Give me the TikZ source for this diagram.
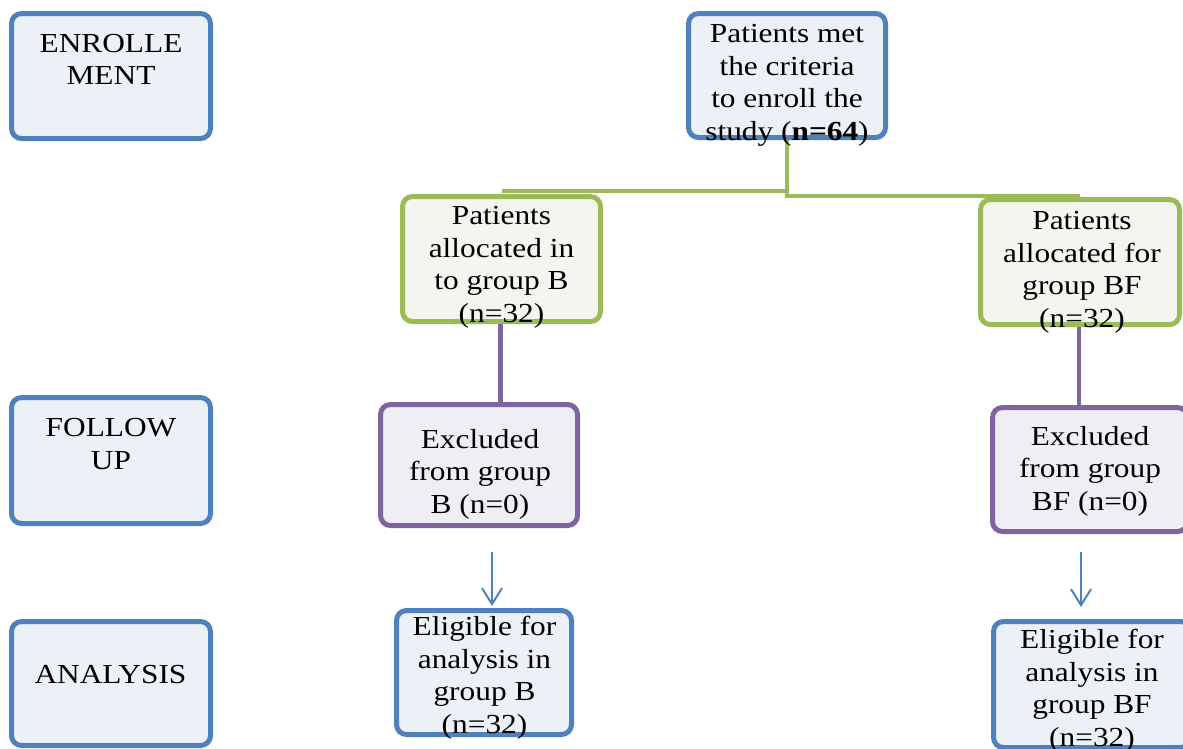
\documentclass[tikz,border=0pt]{standalone}
\usepackage{fontspec}
\setmainfont{Liberation Serif}[FakeStretch=1.14]
\usetikzlibrary{arrows.meta}
\definecolor{bdblue}{HTML}{4F81BD}
\definecolor{fblue}{HTML}{ECF0F7}
\definecolor{bdgreen}{HTML}{9BBB59}
\definecolor{fgreen}{HTML}{F3F6EE}
\definecolor{bdpurple}{HTML}{8064A2}
\definecolor{fpurple}{HTML}{F0EEF5}
\tikzset{
  box/.style={draw, line width=5pt, rounded corners=10pt, inner sep=0pt},
  bluebox/.style={box, draw=bdblue, fill=fblue},
  greenbox/.style={box, draw=bdgreen, fill=fgreen},
  purplebox/.style={box, draw=bdpurple, fill=fpurple},
  txt/.style={anchor=north, inner sep=0pt, align=center,
    font=\fontsize{27.5}{32.7}\selectfont,
    execute at begin node={\rule{0pt}{19pt}}},
  gline/.style={draw=bdgreen, line width=4.5pt},
  pline/.style={draw=bdpurple, line width=4.5pt},
  barrow/.style={draw=bdblue, line width=2pt, -{Straight Barb[length=16pt,width=20pt]}}
}
\begin{document}
\begin{tikzpicture}[x=1pt,y=-1pt]
\useasboundingbox (0,0) rectangle (1183,748);
\fill[white] (0,0) rectangle (1183,748);
\clip (0,0) rectangle (1183,748);

% left column
\node[bluebox, minimum width=199pt, minimum height=125pt] (enr) at (111,76) {};
\node[txt] (enrt) at (111,33.7) {ENROLLE\\MENT};
\node[bluebox, minimum width=199pt, minimum height=126pt] (fol) at (111,460.5) {};
\node[txt] (folt) at (111,418) {FOLLOW\\UP};
\node[bluebox, minimum width=199pt, minimum height=124pt] (ana) at (111,683.5) {};
\node[txt] (anat) at (110.5,664) {ANALYSIS};

% boxes
\node[bluebox, minimum width=197pt, minimum height=124pt] (top) at (787,75.5) {};
\node[greenbox, minimum width=198pt, minimum height=125pt] (gB) at (501.5,259) {};
\node[greenbox, minimum width=199pt, minimum height=125pt] (gBF) at (1080,262) {};
\node[purplebox, minimum width=197pt, minimum height=121pt] (pB) at (479,465) {};
\node[purplebox, minimum width=195pt, minimum height=124pt] (pBF) at (1090,469.5) {};
\node[bluebox, minimum width=175pt, minimum height=124pt] (aB) at (484,672.5) {};
\node[bluebox, minimum width=197pt, minimum height=126pt] (aBF) at (1092,684.5) {};

% connectors
\draw[gline] (top.south) |- ([yshift=3pt]gB.north);
\draw[gline] (top.south) |- ([yshift=1pt]gBF.north);
\draw[pline] ([xshift=-1pt]gB.south) -- ([xshift=-1pt]gB.south |- pB.north);
\draw[pline] ([xshift=-1pt]gBF.south) -- ([xshift=-1pt]gBF.south |- pBF.north);

\coordinate (aBs) at (492,552);
\coordinate (aBFs) at (1081,552);
\draw[barrow, shorten >=2pt] (aBs) -- (aBs |- aB.north);
\draw[barrow, shorten >=12pt] (aBFs) -- (aBFs |- aBF.north);

% texts
\node[txt] (topt) at (787,24) {Patients met\\the criteria\\to enroll the\\study (\textbf{n=64})};
\node[txt] (gBt) at (501.5,206) {Patients\\allocated in\\to group B\\(n=32)};
\node[txt] (gBFt) at (1082,211) {Patients\\allocated for\\group BF\\(n=32)};
\node[txt] (pBt) at (480,429) {Excluded\\from group\\B (n=0)};
\node[txt] (pBFt) at (1090,426) {Excluded\\from group\\BF (n=0)};
\node[txt] (aBt) at (484.5,616) {Eligible for\\analysis in\\group B\\(n=32)};
\node[txt] (aBFt) at (1092,629) {Eligible for\\analysis in\\group BF\\(n=32)};
\end{tikzpicture}
\end{document}
